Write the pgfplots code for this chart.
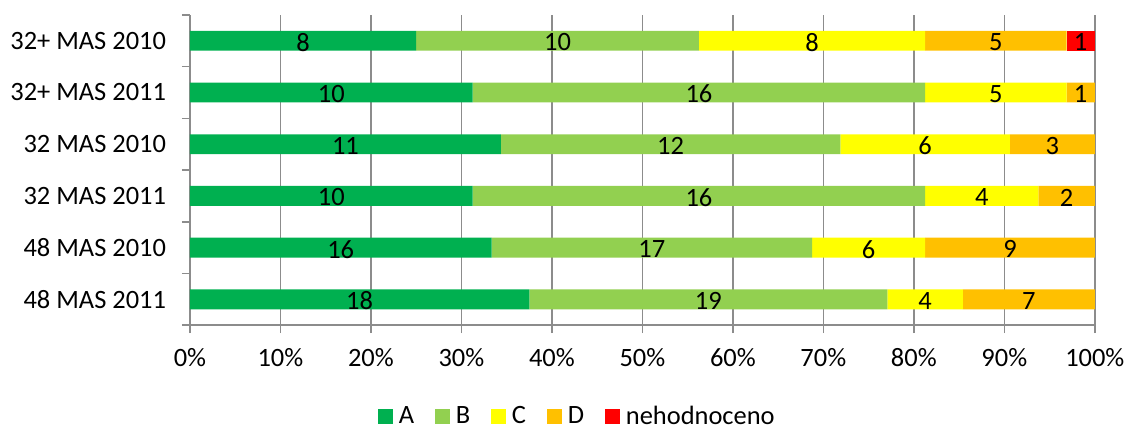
\documentclass[border=0pt]{standalone}
\usepackage{fontspec}
\setmainfont{Carlito}
\usepackage{pgfplots}
\usepackage{pgfplotstable}
\pgfplotsset{compat=1.18}
\definecolor{cA}{HTML}{00B050}
\definecolor{cB}{HTML}{92D050}
\definecolor{cC}{HTML}{FFFF00}
\definecolor{cD}{HTML}{FFC000}
\definecolor{cN}{HTML}{FF0000}
\definecolor{gridgray}{HTML}{8C8C8C}
\newcommand\fs{\fontsize{13.3}{15}\selectfont}
\pgfplotstableread{
y A B C D N T
0 18 19 4 7 0 48
1 16 17 6 9 0 48
2 10 16 4 2 0 32
3 11 12 6 3 0 32
4 10 16 5 1 0 32
5 8 10 8 5 1 32
}\data
\pgfplotsset{
  myleg/.style={legend image code/.code={\fill[##1] (0pt,-3.75pt) rectangle (7.5pt,3.75pt);}},
  common/.style={at={(0,0)}, anchor=south west, scale only axis, width=455pt, height=156pt,
    xmin=0, xmax=100, ymin=-0.5, ymax=5.5},
  lbl/.style={only marks, mark=*, mark size=0pt, mark options={draw=none, fill=none},
    nodes near coords, point meta=explicit symbolic,
    nodes near coords style={font=\fs, anchor=center, inner sep=0pt, text=black, yshift=-0.8pt}},
}
\begin{document}
\begin{tikzpicture}
\begin{axis}[common,
  xbar stacked, bar width=10pt,
  axis x line*=bottom, axis y line*=left,
  axis line style={draw=gridgray, line width=0.8pt},
  xtick={0,10,20,30,40,50,60,70,80,90,100},
  xticklabels={0\%,10\%,20\%,30\%,40\%,50\%,60\%,70\%,80\%,90\%,100\%},
  xmajorgrids, major grid style={gridgray, line width=0.8pt},
  ytick={-0.5,0.5,1.5,2.5,3.5,4.5,5.5}, yticklabels={},
  extra y ticks={0,1,2,3,4,5},
  extra y tick labels={48 MAS 2011,48 MAS 2010,32 MAS 2011,32 MAS 2010,32+ MAS 2011,32+ MAS 2010},
  extra y tick style={major tick length=0pt, yticklabel style={xshift=-8.5pt}},
  tick align=outside, major tick length=4pt, tick style={gridgray, line width=0.8pt},
  ticklabel style={font=\fs, text=black},
  xticklabel style={yshift=-4pt},
  legend style={at={(0.427,-0.295)}, anchor=center, draw=none, legend columns=5, font=\fs,
    nodes={inner sep=0pt},
    /tikz/every odd column/.append style={column sep=3pt},
    /tikz/every even column/.append style={column sep=10.5pt}},
]
\addplot[draw=none, fill=cA, myleg] table[x expr=\thisrow{A}/\thisrow{T}*100, y=y] {\data};
\addplot[draw=none, fill=cB, myleg] table[x expr=\thisrow{B}/\thisrow{T}*100, y=y] {\data};
\addplot[draw=none, fill=cC, myleg] table[x expr=\thisrow{C}/\thisrow{T}*100, y=y] {\data};
\addplot[draw=none, fill=cD, myleg] table[x expr=\thisrow{D}/\thisrow{T}*100, y=y] {\data};
\addplot[draw=none, fill=cN, myleg] table[x expr=\thisrow{N}/\thisrow{T}*100, y=y] {\data};
\legend{A,B,C,D,nehodnoceno}
\end{axis}
\begin{axis}[common, hide axis]
\addplot[lbl] table[x expr=\thisrow{A}/2/\thisrow{T}*100, y=y, meta=A] {\data};
\addplot[lbl] table[x expr=(\thisrow{A}+\thisrow{B}/2)/\thisrow{T}*100, y=y, meta=B] {\data};
\addplot[lbl] table[x expr=(\thisrow{A}+\thisrow{B}+\thisrow{C}/2)/\thisrow{T}*100, y=y, meta=C] {\data};
\addplot[lbl] table[x expr=(\thisrow{A}+\thisrow{B}+\thisrow{C}+\thisrow{D}/2)/\thisrow{T}*100, y=y, meta=D] {\data};
\addplot[lbl, skip coords between index={0}{5}] table[x expr=(\thisrow{A}+\thisrow{B}+\thisrow{C}+\thisrow{D}+\thisrow{N}/2)/\thisrow{T}*100, y=y, meta=N] {\data};
\end{axis}
\path[use as bounding box] (-95.5pt,-51pt) rectangle (470pt,163.5pt);
\end{tikzpicture}
\end{document}
